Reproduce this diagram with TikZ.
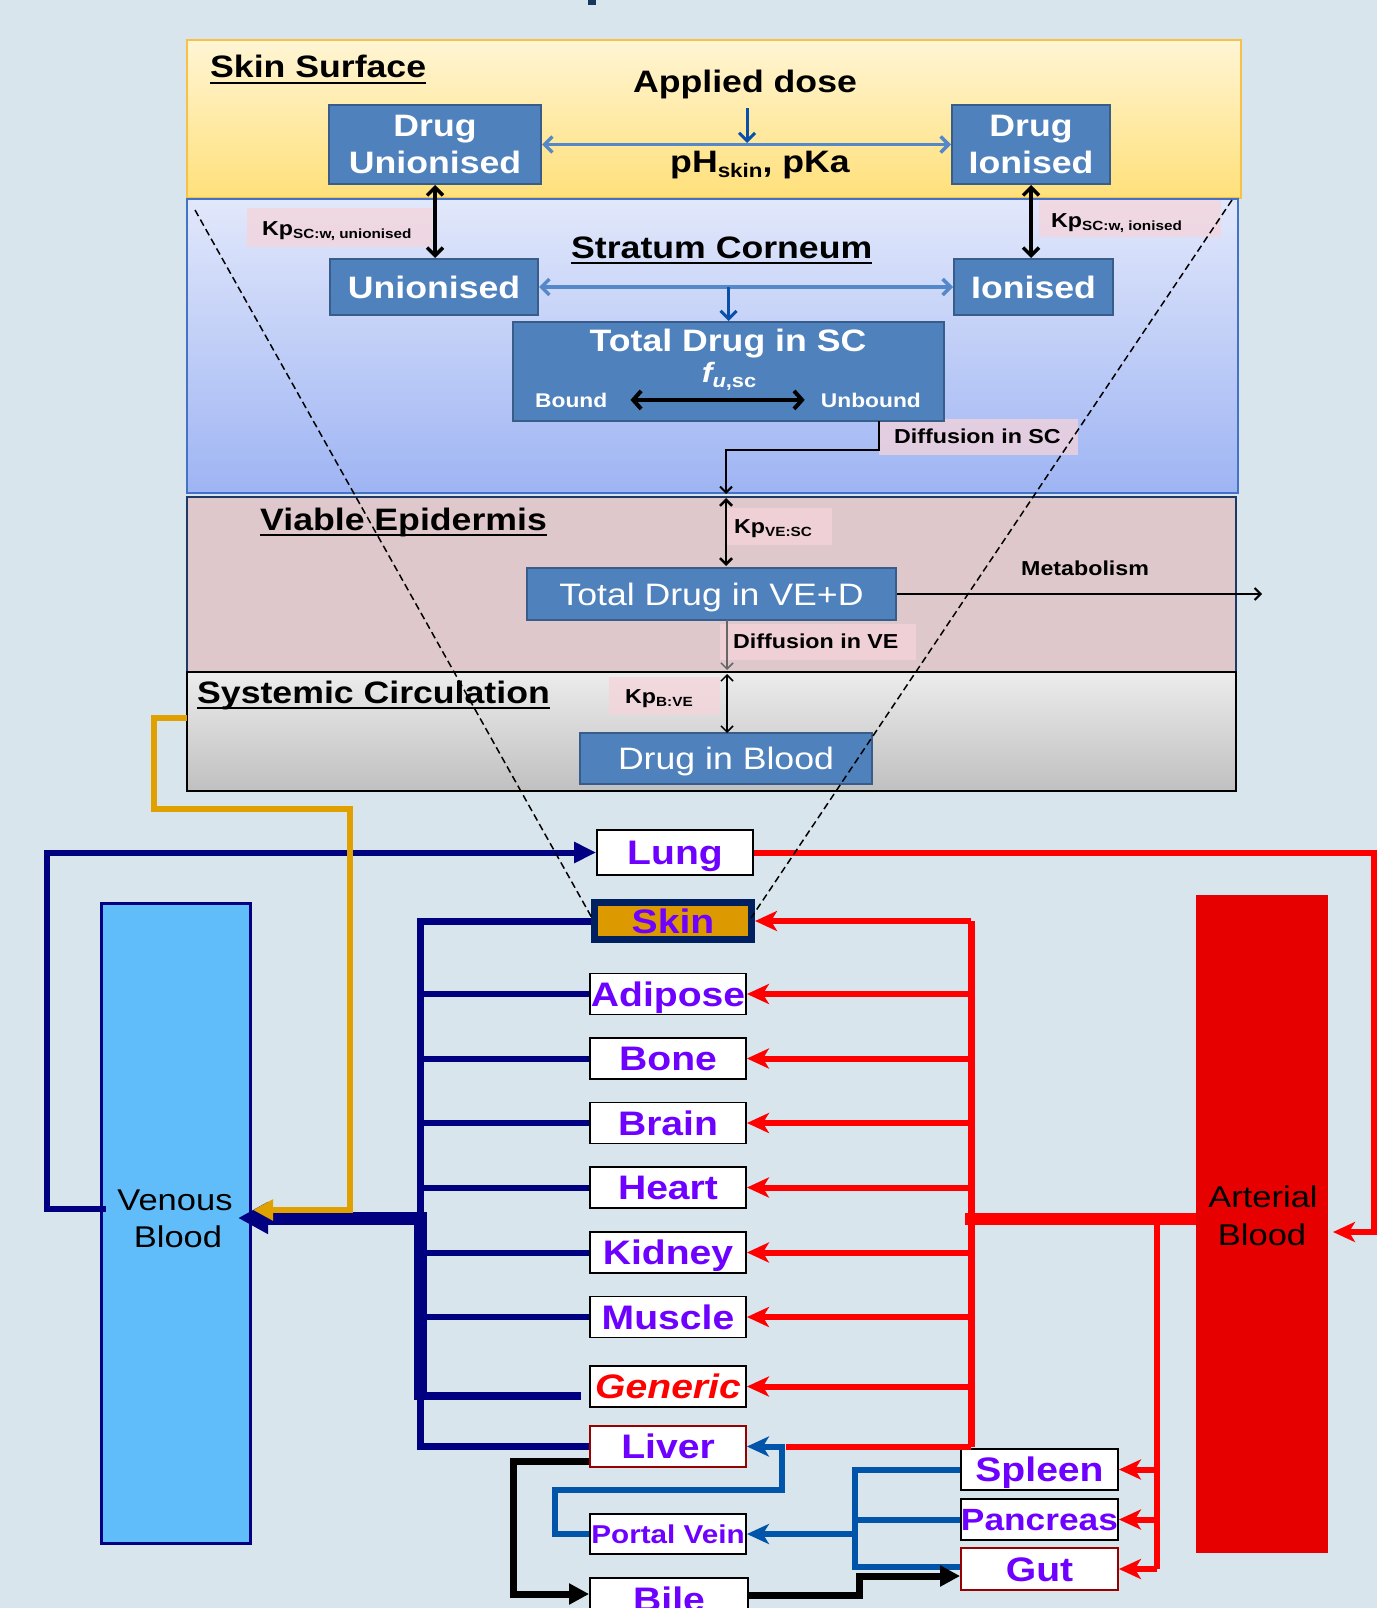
\documentclass[tikz,border=0pt]{standalone}
\usepackage{fontspec}
\setmainfont[FakeStretch=1.15]{Liberation Sans}
\usetikzlibrary{arrows.meta}
\definecolor{bgc}{RGB}{217,229,236}
\definecolor{tfrag}{RGB}{23,55,94}
\definecolor{skbord}{RGB}{247,192,70}
\definecolor{sktop}{RGB}{255,245,212}
\definecolor{skbot}{RGB}{255,224,122}
\definecolor{scbord}{RGB}{68,114,196}
\definecolor{sctop}{RGB}{226,232,251}
\definecolor{scbot}{RGB}{158,180,243}
\definecolor{vebord}{RGB}{31,56,100}
\definecolor{vefill}{RGB}{222,200,204}
\definecolor{sytop}{RGB}{236,236,236}
\definecolor{sybot}{RGB}{192,192,192}
\definecolor{bboxfill}{RGB}{79,129,189}
\definecolor{bboxdraw}{RGB}{56,93,138}
\definecolor{lbarrow}{RGB}{84,136,200}
\definecolor{dbarrow}{RGB}{10,80,170}
\definecolor{lblpink}{RGB}{245,212,218}
\definecolor{navyc}{RGB}{0,0,128}
\definecolor{venc}{RGB}{97,188,250}
\definecolor{artc}{RGB}{230,0,0}
\definecolor{redc}{RGB}{255,0,0}
\definecolor{pvblue}{RGB}{0,85,170}
\definecolor{orc}{RGB}{224,160,0}
\definecolor{orgpur}{RGB}{110,0,255}
\definecolor{skinbord}{RGB}{0,32,96}
\definecolor{skinfill}{RGB}{221,153,0}
\definecolor{darkred}{RGB}{150,0,0}
\newcommand{\fsz}[1]{\fontsize{#1pt}{#1pt}\selectfont}
\newcommand{\kpsub}[1]{Kp{\fsz{13.3}\raisebox{-3pt}{#1}}}
\begin{document}
\begin{tikzpicture}[x=1pt,y=-1pt,
  navyl/.style={draw=navyc, line width=6pt},
  redl/.style={draw=redc, line width=6pt},
  bluel/.style={draw=pvblue, line width=6pt},
  blkl/.style={draw=black, line width=7pt},
  stl/.style={-{Stealth[length=22pt,width=20pt,inset=6pt]}},
  tril/.style={-{Triangle[length=20pt,width=20pt]}},
  barbs/.style={-{Straight Barb[length=8pt,width=16pt]}},
  dbarbs/.style={{Straight Barb[length=8pt,width=16pt]}-{Straight Barb[length=8pt,width=16pt]}},
  sbarbs/.style={-{Straight Barb[length=6pt,width=12pt]}},
  dsbarbs/.style={{Straight Barb[length=6pt,width=12pt]}-{Straight Barb[length=6pt,width=12pt]}},
  organ/.style={draw=black, line width=1.8pt, fill=white, text=orgpur, font=\bfseries\fsz{34}, inner sep=0pt, minimum width=156pt, minimum height=41pt, text height=24.5pt, text depth=0pt},
  bbox/.style={draw=bboxdraw, line width=2pt, fill=bboxfill, text=white, inner sep=0pt, text height=22pt, text depth=0pt},
  btxt/.style={anchor=base, inner sep=0pt, text=white, font=\bfseries\fsz{31}},
  ttl/.style={anchor=base west, inner sep=0pt, font=\bfseries\fsz{31}},
  lbltxt/.style={anchor=base west, inner sep=0pt, font=\bfseries\fsz{20.2}},
  lblbg/.style={fill=lblpink, fill opacity=0.75},
  btext/.style={anchor=base, inner sep=0pt, font=\fsz{30}}
]
\useasboundingbox (0,0) rectangle (1377,1608);
\fill[bgc] (0,0) rectangle (1377,1608);
\clip (0,0) rectangle (1377,1608);
\fill[tfrag] (588,0) rectangle (596,5);

% ---------- layers ----------
\draw[draw=skbord, line width=2pt, top color=sktop, bottom color=skbot] (187,40) rectangle (1241,198);
\draw[draw=scbord, line width=1.5pt, top color=sctop, bottom color=scbot] (187,199) rectangle (1238,493);
\draw[draw=vebord, line width=2.5pt, fill=vefill] (187,497) rectangle (1236,672);
\draw[draw=black, line width=2pt, top color=sytop, bottom color=sybot] (187,672) rectangle (1236,791);

% titles
\node[ttl] (tss) at (210,78) {Skin Surface};
\draw[line width=2.5pt] ([yshift=-5pt]tss.base west) -- ([yshift=-5pt]tss.base east);
\node[ttl] (tsc) at (571,258) {Stratum Corneum};
\draw[line width=2.5pt] ([yshift=-5pt]tsc.base west) -- ([yshift=-5pt]tsc.base east);
\node[ttl] (tve) at (260,530) {Viable Epidermis};
\draw[line width=2.5pt] ([yshift=-5pt]tve.base west) -- ([yshift=-5pt]tve.base east);
\node[ttl] (tsy) at (197,703) {Systemic Circulation};
\draw[line width=2.5pt] ([yshift=-5pt]tsy.base west) -- ([yshift=-5pt]tsy.base east);

\node[anchor=base, inner sep=0pt, font=\bfseries\fsz{31}] (ad) at (745,93) {Applied dose};
\node[anchor=base, inner sep=0pt, font=\bfseries\fsz{31}] (ph) at (760,173) {pH\raisebox{-5pt}{\fsz{19.5}skin}, pKa};

% label backgrounds
\fill[lblbg] (247,208) rectangle (432,247);
\fill[lblbg] (1039,200) rectangle (1221,237);
\fill[lblbg] (727,508) rectangle (832,545);
\fill[lblbg] (609,677) rectangle (720,715);
\fill[lblbg] (879,419) rectangle (1078,455);
\fill[lblbg] (720,624) rectangle (916,660);

% blue boxes
\node[bbox, minimum width=212pt, minimum height=79pt] (du) at (435,144.5) {};
\node[btxt] (du1) at (435,137) {Drug};
\node[btxt] (du2) at (435,174) {Unionised};
\node[bbox, minimum width=158pt, minimum height=79pt] (di) at (1031,144.5) {};
\node[btxt] (di1) at (1031,137) {Drug};
\node[btxt] (di2) at (1031,174) {Ionised};
\node[bbox, font=\bfseries\fsz{31}, minimum width=208pt, minimum height=56pt] (un) at (434,287) {Unionised};
\node[bbox, font=\bfseries\fsz{31}, minimum width=159pt, minimum height=56pt] (io) at (1033.5,287) {Ionised};
\node[bbox, minimum width=431pt, minimum height=99pt] (tot) at (728.5,371.5) {};
\node[btxt] (tot1) at (728,351) {Total Drug in SC};
\node[anchor=base, inner sep=0pt, text=white] (fu) at (729,382) {\fsz{28}\bfseries\itshape f\raisebox{-5pt}{\fsz{19}u\upshape ,sc}};
\node[anchor=base west, inner sep=0pt, text=white, font=\bfseries\fsz{19.8}] (bd) at (535,407) {Bound};
\node[anchor=base east, inner sep=0pt, text=white, font=\bfseries\fsz{19.8}] (ubd) at (921,407) {Unbound};
\node[bbox, font=\fsz{31}, minimum width=369pt, minimum height=52pt] (ved) at (711.5,594) {Total Drug in VE+D};
\node[bbox, font=\fsz{31}, minimum width=292pt, minimum height=51pt] (dib) at (726,758.5) {Drug in Blood};

% top arrows
\draw[draw=lbarrow, line width=3.5pt, dbarbs] (du.east) -- (di.west);
\draw[draw=dbarrow, line width=3pt, barbs] (747,108) -- (747,143);
\draw[draw=lbarrow, line width=3.5pt, dbarbs] (un.east) -- (io.west);
\draw[draw=dbarrow, line width=3pt, barbs] (728.5,287) -- (tot.north);
\draw[line width=3.5pt, dbarbs] (du.south) -- (du.south |- un.north);
\draw[line width=3.5pt, dbarbs] (di.south) -- (di.south |- io.north);
\draw[line width=4pt, {Straight Barb[length=8pt,width=18pt]}-{Straight Barb[length=8pt,width=18pt]}] ([xshift=23pt]bd.east) -- ([xshift=-16pt]ubd.west);
\draw[line width=2pt, sbarbs] (879,421) -- (879,450) -- (726,450) -- (726,494);
\draw[line width=2.5pt, dsbarbs] (726,498) -- (726,566);
\draw[draw=black!60, line width=1.5pt, sbarbs] (727,620) -- (727,670);
\draw[line width=1.5pt, dsbarbs] (727,674) -- (727,733);
\draw[line width=2pt, sbarbs] (ved.east) -- (1262,594);

% labels
\node[lbltxt] (k1) at (262,235) {\kpsub{SC:w, unionised}};
\node[lbltxt] (k2) at (1051,227) {\kpsub{SC:w, ionised}};
\node[lbltxt] (k3) at (734,533) {\kpsub{VE:SC}};
\node[lbltxt] (k4) at (625,703) {\kpsub{B:VE}};
\node[lbltxt] (dsc) at (894,443) {Diffusion in SC};
\node[lbltxt] (dve) at (733,648) {Diffusion in VE};
\node[lbltxt] (met) at (1021,575) {Metabolism};

% ---------- body compartments ----------
\node[draw=navyc, line width=3pt, fill=venc, minimum width=149pt, minimum height=640pt, inner sep=0pt] (ven) at (175.5,1223) {};
\node[btext] (ven1) at (175,1210) {Venous};
\node[btext] (ven2) at (178,1247) {Blood};
\node[fill=artc, minimum width=132pt, minimum height=658pt, inner sep=0pt] (art) at (1262,1224) {};
\node[btext] (art1) at (1263,1207) {Arterial};
\node[btext] (art2) at (1262,1245) {Blood};

\node[organ, minimum height=45pt] (lung) at (675,852.5) {Lung};
\node[organ, draw=skinbord, line width=7pt, fill=skinfill, minimum width=157pt, minimum height=37pt] (skin) at (673,921) {Skin};
\node[organ] (adipose) at (668,994) {Adipose};
\node[organ] (bone) at (668,1058.5) {Bone};
\node[organ] (brain) at (668,1123) {Brain};
\node[organ] (heart) at (668,1187.5) {Heart};
\node[organ] (kidney) at (668,1252.5) {Kidney};
\node[organ] (muscle) at (668,1317) {Muscle};
\node[organ, text=redc, font=\bfseries\itshape\fsz{34}] (generic) at (668,1386.5) {Generic};
\node[organ, draw=darkred] (liver) at (668,1446.5) {Liver};
\node[organ, font=\bfseries\fsz{25.8}, text height=18.5pt, minimum height=40pt] (portal) at (668,1534) {Portal Vein};
\node[organ, minimum width=158pt, minimum height=42pt] (bile) at (669,1599) {Bile};
\node[organ, minimum width=157pt] (spleen) at (1039.5,1469.5) {Spleen};
\node[organ, minimum width=157pt, font=\bfseries\fsz{30.7}, text height=22pt] (pancreas) at (1039.5,1519.5) {Pancreas};
\node[organ, draw=darkred, minimum width=157pt, minimum height=42pt] (gut) at (1039.5,1569) {Gut};

% navy (venous side)
\coordinate (nt) at (420,921);
\draw[navyl, line width=6pt, -{Triangle[length=22pt,width=20pt]}] (106,1209) -- (47,1209) -- (47,852.5) -- (lung.west);
\draw[navyl, line width=7pt] (skin.west) -- (nt) -- (420,1446.5) -- (liver.west);
\draw[navyl, line width=13pt] (420,1212) -- (420,1400);
\draw[navyl, line width=13pt, -{Triangle[length=30pt,width=30pt]}] (426,1218) -- (238,1218);
\foreach \o in {adipose,bone,brain,heart,kidney,muscle}
  \draw[navyl] (\o.west -| nt) -- (\o.west);
\draw[navyl, line width=8pt] (420,1396) -- (581,1396);

% red (arterial side)
\coordinate (rt) at (971,921);
\coordinate (rt2) at (1157,1219);
\draw[redl, line width=7pt] (rt) -- (971,1446.5);
\draw[redl, stl] (rt) -- (skin.east);
\foreach \o in {adipose,bone,brain,heart,kidney,muscle,generic}
  \draw[redl, stl] (\o.east -| rt) -- (\o.east);
\draw[redl] (971,1446.5) -- (786,1446.5);
\draw[redl, line width=12pt] (art.west |- rt2) -- (965,1219);
\draw[redl] (rt2) -- (1157,1569);
\foreach \o in {spleen,pancreas,gut}
  \draw[redl, stl] (\o.east -| rt2) -- (\o.east);
\draw[redl, stl] (lung.east) -- (1374,852.5) -- (1374,1232) -- (1333,1232);

% portal system
\draw[bluel, stl] (portal.west) -- (555,1534) -- (555,1490) -- (782,1490) -- (782,1446.5) -- (liver.east);
\draw[bluel] (spleen.west) -- (855,1469.5) -- (855,1567) -- ([yshift=2pt]gut.west);
\draw[bluel] (pancreas.west) -- (855,1519.5);
\draw[bluel, stl] (855,1534) -- (portal.east);

% bile
\draw[blkl, tril] ([yshift=-15pt]liver.west) -- (513,1461.5) -- (513,1594) -- ([yshift=5pt]bile.west);
\draw[blkl, tril] ([yshift=4pt]bile.east) -- (859,1595) -- (859,1576) -- ([yshift=-7pt]gut.west);

% skin to venous (orange)
\draw[draw=orc, line width=6pt, -{Triangle[length=20pt,width=20pt]}] (187,718) -- (154,718) -- (154,809) -- (350,809) -- (350,1210) -- (253,1210);

% zoom lines
\draw[line width=1.5pt, dash pattern=on 7pt off 4pt] (195,210) -- (592,918);
\draw[line width=1.5pt, dash pattern=on 7pt off 4pt] (1232,200) -- (751,918);
\end{tikzpicture}
\end{document}
